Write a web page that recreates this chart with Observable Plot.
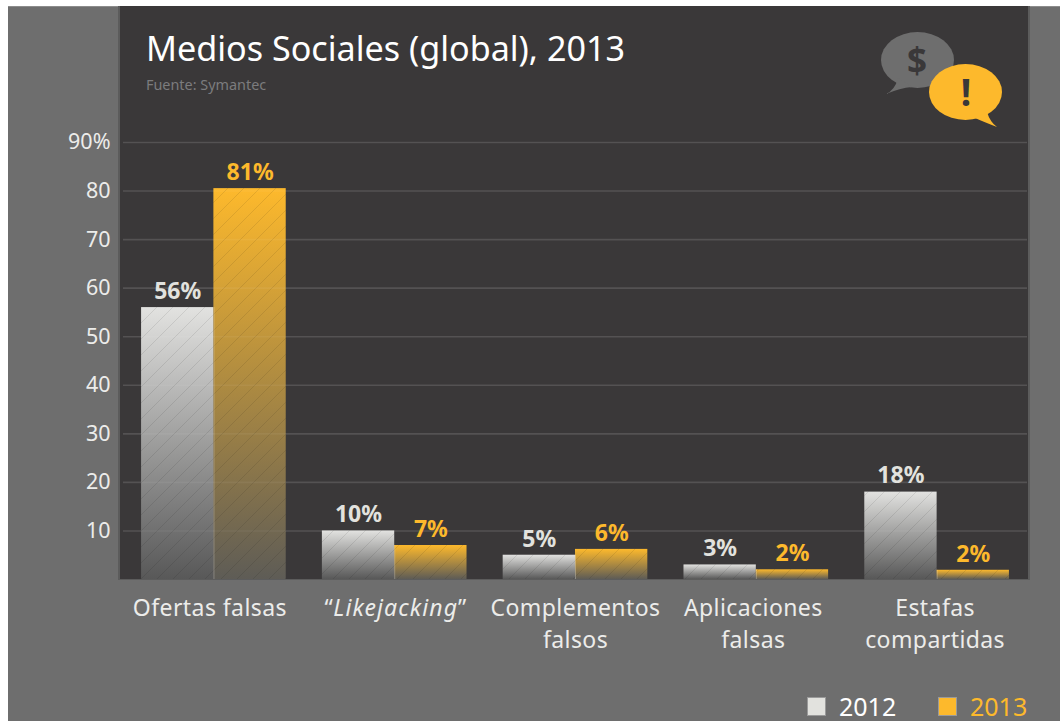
<!DOCTYPE html>
<html><head><meta charset="utf-8">
<script src="https://cdn.jsdelivr.net/npm/d3@7"></script>
<script src="https://cdn.jsdelivr.net/npm/@observablehq/plot@0.6"></script>
<style>
html,body{margin:0;padding:0;background:#fff;width:1060px;height:721px;overflow:hidden;font-family:"Noto Sans",sans-serif}
#bg{position:absolute;left:8px;top:6px;width:1052px;height:715px;background:#6e6e6e;border-top:1px solid #8c8c8c;box-sizing:border-box}
#panel{position:absolute;left:118px;top:6px;width:912px;height:574px;background:#3a3839;border-left:2px solid #5c5c5c;border-right:2px solid #5c5c5c;border-bottom:1px solid #5c5c5c;box-sizing:border-box}
#chart{position:absolute;left:0;top:0}
h1{position:absolute;left:146px;top:26px;margin:0;font-size:34.15px;font-weight:400;color:#fff;line-height:44px;white-space:nowrap}
#src{position:absolute;left:146px;top:76px;font-size:14.4px;color:#7c7c7e;line-height:18px;white-space:nowrap}
#icon{position:absolute;left:870px;top:20px}
.sw{position:absolute;top:697px;width:19px;height:19px;border:1px solid #9a9a9a;box-sizing:border-box}
.lg{position:absolute;top:692px;font-size:25px;line-height:29px}
</style></head><body>
<div id="bg"></div><div id="panel"></div>
<div id="chart"></div>
<h1>Medios Sociales (global), 2013</h1>
<div id="src">Fuente: Symantec</div>
<svg id="icon" width="150" height="115" viewBox="870 20 150 115">
<ellipse cx="917.5" cy="60" rx="36.5" ry="28" fill="#6e6e6e"/>
<path d="M886 94 Q895 90 898 78 L912 87 Q900 88 886 94Z" fill="#6e6e6e"/>
<text x="917" y="73" text-anchor="middle" font-family="Noto Sans" font-weight="700" font-size="35" fill="#3a3839">$</text>
<ellipse cx="965.5" cy="92" rx="36.5" ry="28" fill="#fdb92c"/>
<path d="M997 127 Q984 122 975 118 L987 112 Q990 122 997 127Z" fill="#fdb92c"/>
<text x="966" y="106" text-anchor="middle" font-family="Noto Sans" font-weight="700" font-size="37" fill="#3a3839">!</text>
</svg>
<div class="sw" style="left:807px;background:#e2e2de"></div><div class="lg" style="left:839px;color:#fff">2012</div>
<div class="sw" style="left:938px;background:#fdb92c"></div><div class="lg" style="left:970px;color:#fdb92c">2013</div>
<script>
const categories = ["Ofertas falsas", "“Likejacking”", "Complementos\nfalsos", "Aplicaciones\nfalsas", "Estafas\ncompartidas"];
const values2012 = [56, 10, 5, 3, 18];
const values2013 = [80.5, 7, 6.2, 2, 1.9];
const labels2012 = ["56%", "10%", "5%", "3%", "18%"];
const labels2013 = ["81%", "7%", "6%", "2%", "2%"];
const yTicks = [10, 20, 30, 40, 50, 60, 70, 80, 90];
const rows = categories.map((c, i) => ({c, a: values2012[i], b: values2013[i], la: labels2012[i], lb: labels2013[i]}));

const halfBar = 72.3, barShift = 36.2;
const defs = () => {
  const s = d3.create("svg:defs");
  const grad = (id, top, bottom) => {
    const g = s.append("linearGradient").attr("id", id).attr("x1", 0).attr("y1", 0).attr("x2", 0).attr("y2", 1);
    g.append("stop").attr("offset", 0).attr("stop-color", top);
    g.append("stop").attr("offset", 1).attr("stop-color", bottom);
  };
  grad("g2012", "#e2e2e0", "#585858");
  grad("g2013", "#fdb92c", "#5e5c56");
  const p = s.append("pattern").attr("id", "hatch").attr("patternUnits", "userSpaceOnUse")
    .attr("width", 16).attr("height", 16);
  p.append("path").attr("d", "M-1 17L17 -1M-1 1L1 -1M15 17L17 15").attr("stroke", "#000").attr("stroke-opacity", .09).attr("stroke-width", 1).attr("fill", "none");
  return s.node();
};
const chart = Plot.plot({
  width: 1060, height: 721,
  marginLeft: 123, marginRight: 33, marginTop: 142, marginBottom: 142,
  style: {background: "transparent", fontFamily: "'Noto Sans',sans-serif", overflow: "visible"},
  x: {domain: categories, paddingInner: 0.2, paddingOuter: 0.1, round: false, label: null},
  y: {domain: [0, 90], label: null},
  marks: [
    defs,
    Plot.ruleY(yTicks, {stroke: "#fff", strokeOpacity: .09, strokeWidth: 1.6}),
    Plot.barY(rows, {x: "c", y: "a", fill: "url(#g2012)", insetRight: halfBar}),
    Plot.barY(rows, {x: "c", y: "a", fill: "url(#hatch)", insetRight: halfBar}),
    Plot.barY(rows, {x: "c", y: "b", fill: "url(#g2013)", insetLeft: halfBar}),
    Plot.barY(rows, {x: "c", y: "b", fill: "url(#hatch)", insetLeft: halfBar}),
    Plot.ruleX(rows, {x: "c", y1: 0, y2: d => Math.min(d.a, d.b), stroke: "#fff", strokeOpacity: .28, strokeWidth: 1}),
    Plot.ruleY(yTicks, {stroke: "#fff", strokeOpacity: .05, strokeWidth: 1.6}),
    Plot.text(rows, {x: "c", y: "a", text: "la", dx: -barShift, dy: -16, fill: "#e2e2de", fontSize: 23, fontWeight: 700}),
    Plot.text(rows, {x: "c", y: "b", text: "lb", dx: barShift, dy: -16, fill: "#fdb92c", fontSize: 23, fontWeight: 700}),
    Plot.axisY({ticks: yTicks, tickFormat: d => d === 90 ? "90%" : String(d), tickSize: 0, tickPadding: 13, marginLeft: 123, fontSize: 21.5, fill: "#ececea", label: null}),
    Plot.axisX({tickSize: 0, tickPadding: 14, fontSize: 23, fill: "#ececea", lineHeight: 1.38, lineAnchor: "top", label: null, textOverflow: null})
  ]
});
document.getElementById("chart").append(chart);
const nudge = {"Ofertas": -4, "Aplicaciones": -3, "Estafas": -2, "Likejacking": 1};
d3.select(chart).selectAll("text").each(function(){
  const txt = this.textContent;
  const cat = categories.find(c => c.replace("\n", "") === txt || c === txt);
  if (!cat) return;
  this.style.letterSpacing = "0.42px";
  const key = Object.keys(nudge).find(k => txt.includes(k));
  if (key) this.setAttribute("transform", (this.getAttribute("transform") || "") + ` translate(${nudge[key]},0)`);
  if (txt.includes("Likejacking")) {
    const host = d3.select(this.querySelector("tspan") || this);
    host.text(null);
    host.append("tspan").text("“");
    host.append("tspan").attr("font-style", "italic").attr("letter-spacing", "1.1px").text("Likejacking");
    host.append("tspan").text("”");
  }
});
</script></body></html>
